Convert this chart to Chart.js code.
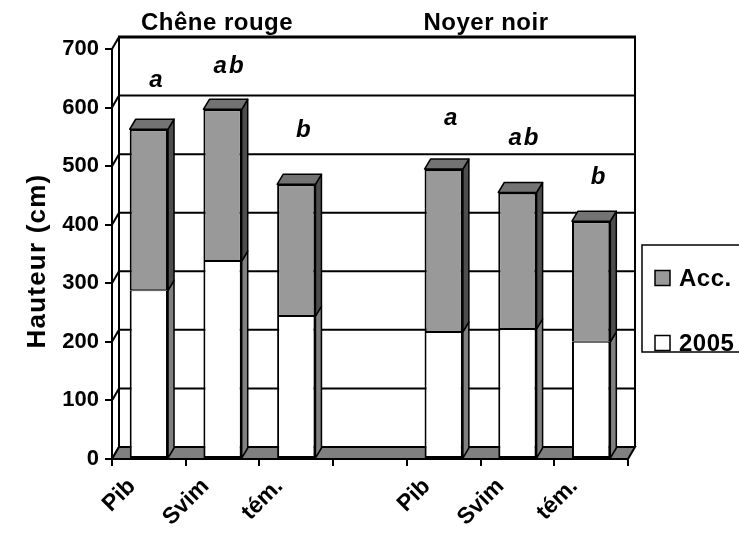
<!DOCTYPE html>
<html>
<head>
<meta charset="utf-8">
<script src="https://cdn.jsdelivr.net/npm/chart.js@4/dist/chart.umd.min.js"></script>
<style>
  html, body { margin: 0; padding: 0; background: #fff; }
  canvas { display: block; }
</style>
</head>
<body>
<canvas id="chart" width="739" height="533"></canvas>
<script>
// data (cm)
const categories = ['Pib', 'Svim', 'tém.', '', 'Pib', 'Svim', 'tém.'];
const height2005 = [288, 338, 244, null, 217, 222, 200];
const accroissement = [275, 259, 225, null, 278, 233, 206];
const letters = ['a', 'ab', 'b', '', 'a', 'ab', 'b'];
const letterLevels = [635, 659, 549, null, 570, 536, 469];
const groups = ['Chêne rouge', 'Noyer noir'];
const yTicks = [0, 100, 200, 300, 400, 500, 600, 700];

const FONT = 'Arial, "Liberation Sans", sans-serif';
const WALL_DX = 7, WALL_DY = 12;   // depth of back wall / floor
const BAR_DX = 6, BAR_DY = 10;     // depth of the columns
const sideColors = ['#808080', '#4d4d4d'];
const topColor = '#737373';

function poly(ctx, pts, fill) {
  ctx.beginPath();
  ctx.moveTo(pts[0][0], pts[0][1]);
  for (let i = 1; i < pts.length; i++) ctx.lineTo(pts[i][0], pts[i][1]);
  ctx.closePath();
  if (fill) { ctx.fillStyle = fill; ctx.fill(); }
  ctx.stroke();
}
function line(ctx, x1, y1, x2, y2) {
  ctx.beginPath(); ctx.moveTo(x1, y1); ctx.lineTo(x2, y2); ctx.stroke();
}

// fake 3D: back wall, left wall, floor and the side/top faces of the columns
const box3d = {
  id: 'box3d',
  beforeDatasetsDraw(chart) {
    const { ctx, chartArea: a } = chart;
    const y = chart.scales.y;
    ctx.save();
    ctx.strokeStyle = '#000';
    ctx.lineWidth = 2;
    yTicks.forEach(v => {
      const py = y.getPixelForValue(v);
      line(ctx, a.left + WALL_DX, py - WALL_DY, a.right + WALL_DX, py - WALL_DY);
      line(ctx, a.left, py, a.left + WALL_DX, py - WALL_DY);
    });
    line(ctx, a.left + WALL_DX, a.top - WALL_DY, a.left + WALL_DX, a.bottom - WALL_DY);
    line(ctx, a.right + WALL_DX, a.top - WALL_DY, a.right + WALL_DX, a.bottom - WALL_DY);
    ctx.lineWidth = 3;
    line(ctx, a.left + WALL_DX - 1, a.top - WALL_DY, a.right + WALL_DX + 1, a.top - WALL_DY);
    ctx.lineWidth = 2;
    poly(ctx, [[a.left, a.bottom], [a.left + WALL_DX, a.bottom - WALL_DY],
               [a.right + WALL_DX, a.bottom - WALL_DY], [a.right, a.bottom]], '#808080');

    ctx.lineWidth = 1.5;
    ctx.lineJoin = 'round';
    const n = chart.data.datasets.length;
    chart.data.datasets.forEach((ds, di) => {
      const meta = chart.getDatasetMeta(di);
      meta.data.forEach((el, i) => {
        if (ds.data[i] == null) return;
        const p = el.getProps(['x', 'y', 'base', 'width'], true);
        const l = p.x - p.width / 2, r = p.x + p.width / 2;
        const t = Math.min(p.y, p.base), b = Math.max(p.y, p.base);
        poly(ctx, [[r, t], [r + BAR_DX, t - BAR_DY], [r + BAR_DX, b - BAR_DY], [r, b]], sideColors[di]);
        if (di === n - 1) {
          poly(ctx, [[l, t], [l + BAR_DX, t - BAR_DY], [r + BAR_DX, t - BAR_DY], [r, t]], topColor);
        }
      });
    });
    ctx.restore();
  },
  afterDraw(chart) {
    const { ctx } = chart;
    const x = chart.scales.x, y = chart.scales.y;
    ctx.save();
    ctx.fillStyle = '#000';
    ctx.textBaseline = 'alphabetic';

    // significance letters
    ctx.font = 'italic bold 24px ' + FONT;
    ctx.textAlign = 'center';
    letters.forEach((s, i) => {
      if (!s) return;
      ctx.letterSpacing = s.length > 1 ? '2px' : '0px';
      ctx.fillText(s, x.getPixelForValue(i) + 7, y.getPixelForValue(letterLevels[i]));
    });

    // group titles
    ctx.font = 'bold 24px ' + FONT;
    ctx.letterSpacing = '0.5px';
    ctx.textBaseline = 'middle';
    ctx.fillText(groups[0], 217, 23);
    ctx.fillText(groups[1], 486, 23);

    // y axis title
    ctx.save();
    ctx.translate(38, 261);
    ctx.rotate(-Math.PI / 2);
    ctx.font = 'bold 26px ' + FONT;
    ctx.letterSpacing = '1.2px';
    ctx.fillText('Hauteur (cm)', 0, 0);
    ctx.restore();

    // legend
    ctx.strokeStyle = '#000';
    ctx.lineWidth = 1.5;
    ctx.strokeRect(642, 245, 120, 107);
    const ds = chart.data.datasets;
    const items = [[ds[1], 278], [ds[0], 343]];
    ctx.font = 'bold 24px ' + FONT;
    ctx.letterSpacing = '0.5px';
    ctx.textAlign = 'left';
    items.forEach(([d, cy]) => {
      ctx.fillStyle = d.backgroundColor;
      ctx.fillRect(655, cy - 7.5, 15, 15);
      ctx.strokeRect(655, cy - 7.5, 15, 15);
      ctx.fillStyle = '#000';
      ctx.fillText(d.label, 679, cy + 1);
    });
    ctx.restore();
  }
};

new Chart(document.getElementById('chart'), {
  type: 'bar',
  data: {
    labels: categories,
    datasets: [
      { label: '2005', data: height2005, backgroundColor: '#ffffff', borderColor: '#000',
        borderWidth: { left: 2, right: 2, top: 1, bottom: 2 }, borderSkipped: false },
      { label: 'Acc.', data: accroissement, backgroundColor: '#999999', borderColor: '#000',
        borderWidth: { left: 2, right: 2, top: 2, bottom: 1 }, borderSkipped: false }
    ]
  },
  options: {
    responsive: false,
    animation: false,
    devicePixelRatio: 1,
    layout: { padding: { top: 49, right: 111, left: 0, bottom: 0 } },
    datasets: { bar: { categoryPercentage: 1, barPercentage: 0.52 } },
    plugins: { legend: { display: false }, tooltip: { enabled: false } },
    scales: {
      x: {
        stacked: true,
        afterFit(s) { s.height = 74; },
        grid: { drawOnChartArea: false, drawTicks: true, tickLength: 7, color: '#000', lineWidth: 2 },
        border: { display: true, color: '#000', width: 2 },
        ticks: {
          autoSkip: false, minRotation: 45, maxRotation: 45, labelOffset: -17, padding: 7,
          color: '#000', font: { family: FONT, size: 23, weight: 'bold' }
        }
      },
      y: {
        stacked: true,
        min: 0, max: 700,
        afterFit(s) { s.width = 112; },
        afterBuildTicks(s) { s.ticks = yTicks.map(v => ({ value: v })); },
        grid: { drawOnChartArea: false, drawTicks: true, tickLength: 7, color: '#000', lineWidth: 2 },
        border: { display: true, color: '#000', width: 2 },
        ticks: { padding: 6, color: '#000', font: { family: FONT, size: 22, weight: 'bold' } }
      }
    }
  },
  plugins: [box3d]
});
</script>
</body>
</html>
